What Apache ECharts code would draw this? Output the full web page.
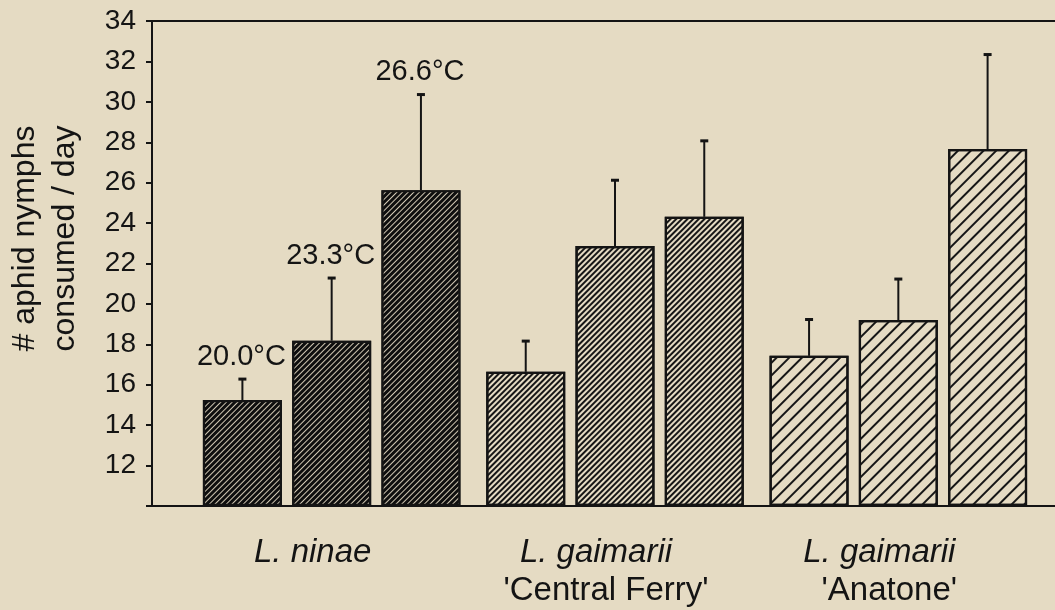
<!DOCTYPE html>
<html><head><meta charset="utf-8">
<script src="https://cdn.jsdelivr.net/npm/echarts@6/dist/echarts.min.js"></script>
<style>html,body{margin:0;padding:0;background:#e5dbc3}#c{width:1055px;height:610px}</style>
</head><body><div id="c"></div>
<script>
// ---- data ----
const speciesNames = ['L. ninae', 'L. gaimarii', 'L. gaimarii'];
const populations  = ['', "'Central Ferry'", "'Anatone'"];
const temperatures = ['20.0°C', '23.3°C', '26.6°C'];
const means20 = [15.24, 16.64, 17.43];
const means23 = [18.18, 22.86, 19.20];
const means26 = [25.63, 24.31, 27.66];
const se20 = [1.04, 1.52, 1.80];
const se23 = [3.10, 3.26, 2.03];
const se26 = [4.73, 3.76, 4.68];
const yMin = 10, yMax = 34, yStep = 2;
const labeledGroup = 0;

// ---- styles ----
const FONT = '"Liberation Sans", Arial, Helvetica, sans-serif';
const INK = '#141414';
const BG = '#e5dbc3';
const BAR_W = 79;
const GAP_RATIO = 0.13;
const ROT = -Math.PI / 4;
const groupStyles = [
  { color: '#0e0e0e', decal: { symbol: 'rect', symbolSize: 1, dashArrayX: [1, 0], dashArrayY: [0.9, 2.1], rotation: ROT, color: '#cfc6b2' } },
  { color: BG, decal: { symbol: 'rect', symbolSize: 1, dashArrayX: [1, 0], dashArrayY: [1.2, 1.8], rotation: ROT, color: '#161616' } },
  { color: BG, decal: { symbol: 'rect', symbolSize: 1, dashArrayX: [1, 0], dashArrayY: [1.3, 6.7], rotation: ROT, color: '#161616' } }
];

const means = [means20, means23, means26];
const ses = [se20, se23, se26];
const categories = speciesNames.map((s, k) => (s + ' ' + populations[k]).trim());

const series = [];
means.forEach((m, t) => {
  series.push({
    type: 'bar', name: temperatures[t], xAxisIndex: 2, yAxisIndex: 1,
    barWidth: BAR_W, barGap: (GAP_RATIO * 100) + '%', clip: true,
    itemStyle: { borderColor: INK, borderWidth: 2.2 },
    emphasis: { disabled: true },
    data: m.map((v, k) => ({ value: v, itemStyle: groupStyles[k] })),
    z: 2
  });
});
means.forEach((m, t) => {
  const offset = (t - 1) * BAR_W * (1 + GAP_RATIO);
  series.push({
    type: 'custom', name: temperatures[t] + ' SE', xAxisIndex: 2, yAxisIndex: 1,
    data: m.map((v, k) => [k, v, ses[t][k]]),
    z: 5,
    renderItem: function (params, api) {
      const k = api.value(0), v = api.value(1), e = api.value(2);
      const b = api.coord([k, v]);
      const top = api.coord([k, v + e]);
      const x = b[0] + offset;
      const children = [
        { type: 'line', shape: { x1: x, y1: b[1], x2: x, y2: top[1] }, style: { stroke: INK, lineWidth: 2 } },
        { type: 'line', shape: { x1: x - 4, y1: top[1], x2: x + 4, y2: top[1] }, style: { stroke: INK, lineWidth: 3 } }
      ];
      if (params.dataIndex === labeledGroup) {
        children.push({ type: 'text', x: x - 1, y: top[1] - 8,
          style: { text: temperatures[t], fill: INK, font: '29px ' + FONT, align: 'center', verticalAlign: 'bottom' } });
      }
      return { type: 'group', children };
    }
  });
});

const chart = echarts.init(document.getElementById('c'));
chart.setOption({
  backgroundColor: BG,
  animation: false,
  grid: [
    { left: 152, right: 0, top: 21, bottom: 104, outerBoundsMode: 'none', containLabel: false },
    { left: 190, right: 15, top: 21, bottom: 104, outerBoundsMode: 'none', containLabel: false }
  ],
  xAxis: [
    { type: 'value', gridIndex: 0, position: 'bottom', min: 0, max: 1,
      axisLine: { show: true, lineStyle: { color: INK, width: 2 } }, axisTick: { show: false },
      axisLabel: { show: false }, splitLine: { show: false } },
    { type: 'value', gridIndex: 0, position: 'top', min: 0, max: 1,
      axisLine: { show: true, lineStyle: { color: INK, width: 2 } }, axisTick: { show: false },
      axisLabel: { show: false }, splitLine: { show: false } },
    { type: 'category', gridIndex: 1, data: categories,
      axisLine: { show: false }, axisTick: { show: false }, splitLine: { show: false },
      axisLabel: {
        interval: 0, margin: 28, padding: [0, 38, 0, 0],
        formatter: (val, idx) => populations[idx]
          ? '{sp|' + speciesNames[idx] + '}\n{pop|' + populations[idx] + '}'
          : '{sp|' + speciesNames[idx] + '}',
        rich: {
          sp: { fontStyle: 'italic', fontSize: 33, lineHeight: 38, fontFamily: FONT, color: INK },
          pop: { fontSize: 33, lineHeight: 38, fontFamily: FONT, color: INK, padding: [0, 0, 0, 20] }
        }
      } }
  ],
  yAxis: [
    { type: 'value', gridIndex: 0, min: yMin, max: yMax, interval: yStep,
      name: '# aphid nymphs\nconsumed / day', nameLocation: 'middle', nameGap: 67, nameRotate: 90,
      nameTextStyle: { fontSize: 32, lineHeight: 40, fontFamily: FONT, color: INK, padding: [0, 0, 0, 50] },
      axisLine: { show: true, lineStyle: { color: INK, width: 2 } },
      axisTick: { show: true, length: 6, lineStyle: { color: INK, width: 2 } },
      axisLabel: { fontSize: 28, fontFamily: FONT, color: INK, margin: 16,
        formatter: v => (v === yMin ? '' : String(v)) },
      splitLine: { show: false } },
    { type: 'value', gridIndex: 1, min: yMin, max: yMax, interval: yStep, startValue: yMin, show: false }
  ],
  series
});
</script></body></html>
